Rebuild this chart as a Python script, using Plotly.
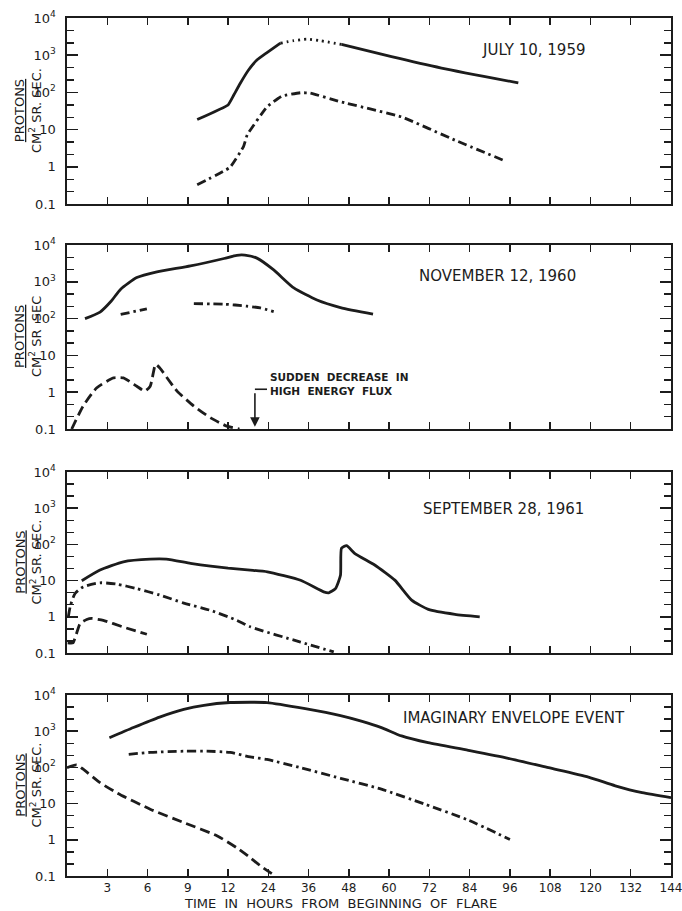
import numpy as np
import plotly.graph_objects as go

# ---------------- data (hours from flare start, protons / cm2 sr sec) -------------
# Panel 1: July 10, 1959
p1_solid_a_t = [9.7, 12, 13.7, 15.6, 18.1, 20.6, 23.6, 27.6]
p1_solid_a_v = [18.6, 46, 85, 174, 400, 740, 1170, 2100]
p1_dotted_t = [27.6, 31.5, 35.5, 39.5, 45.8]
p1_dotted_v = [2100, 2450, 2700, 2450, 1950]
p1_solid_b_t = [45.8, 60.7, 75.6, 98.5]
p1_solid_b_v = [1950, 910, 450, 180]
p1_dashdot_t = [9.7, 12.6, 16.6, 17.7, 23.6, 28.1, 33.6, 36.5, 45.5, 63.7, 79.6, 94.6]
p1_dashdot_v = [0.33, 0.97, 3.5, 7.2, 41, 80, 98, 96, 56, 22, 5.2, 1.43]

# Panel 2: November 12, 1960
p2_solid_t = [1.34, 2.46, 3.3, 4.0, 5.2, 6.7, 9.2, 11.7, 14.6, 17.0, 20.6, 25.6, 31.6, 38.5, 45.5, 55.2]
p2_solid_v = [100, 150, 300, 630, 1300, 1860, 2700, 4300, 5250, 5300, 4400, 2100, 680, 320, 200, 133]
p2_dashdot_t = [4.0, 5.95, None, 9.45, 11.7, 17.6, 21.6, 25.6]
p2_dashdot_v = [130, 185, None, 255, 247, 218, 195, 155]
p2_dashed_t = [0.35, 1.2, 2.2, 3.46, 4.2, 5.2, 5.8, 6.2, 6.6, 6.9, 8.2, 9.45, 10.7, 11.9, 15.4]
p2_dashed_v = [0.1, 0.42, 1.3, 2.45, 2.45, 1.45, 1.07, 1.45, 5.7, 4.6, 1.07, 0.42, 0.2, 0.12, 0.1]
p2_arrow_hours = 20.0

# Panel 3: September 28, 1961
p3_solid_t = [1.1, 2.46, 4.2, 6.2, 7.4, 9.2, 10.7, 12, 18.6, 23.7, 33.6, 40.5, 42, 44, 45.5,
              45.8, 47.3, 49.8, 55.7, 61.7, 66.7, 71.7, 79.6, 87]
p3_solid_v = [9.9, 19.5, 33, 39, 39, 30, 25, 22, 19.5, 17.5, 10.2, 4.9, 4.6, 6, 14,
              78, 92, 56, 27, 10.3, 2.9, 1.6, 1.17, 1.0]
p3_dashdot_t = [0.1, 0.25, 0.6, 1.2, 2.46, 3.7, 5.2, 6.9, 8.7, 10.7, 14.6, 18.6, 33.6, 43.5]
p3_dashdot_v = [1.0, 2.0, 4.4, 6.7, 8.7, 8, 6, 4, 2.4, 1.5, 0.8, 0.53, 0.2, 0.107]
p3_dashed_t = [0.05, 0.45, 0.97, 1.47, 1.84, 2.7, 4.2, 5.95]
p3_dashed_v = [0.19, 0.19, 0.65, 0.84, 0.9, 0.8, 0.52, 0.33]

# Panel 4: Imaginary envelope event
p4_solid_t = [3.16, 4.95, 6.9, 8.7, 10.2, 12.6, 18.6, 23.6, 35, 45.5, 51.7, 57.7, 63.7, 71.6,
              83.6, 95.5, 107.5, 119.4, 127.4, 135.4, 144]
p4_solid_v = [660, 1260, 2450, 4000, 5200, 6200, 6300, 6200, 4200, 2700, 1900, 1260, 740, 480,
              295, 178, 98, 54, 31, 20, 14.6]
p4_dashdot_t = [4.6, 6.2, 8.7, 10.4, 12.6, 18.6, 23.6, 33.6, 45.5, 57.7, 70.7, 83.6, 96]
p4_dashdot_v = [230, 260, 280, 280, 260, 195, 166, 98, 50, 25, 9.6, 3.5, 1.02]
p4_dashed_t = [0, 0.72, 1.2, 2.46, 3.7, 6.2, 8.7, 11.2, 14.6, 18.6, 22, 26.1]
p4_dashed_v = [98, 117, 89, 38, 20, 7, 3, 1.27, 0.6, 0.32, 0.18, 0.1]

x_tick_hours = [3, 6, 9, 12, 24, 36, 48, 60, 72, 84, 96, 108, 120, 132, 144]
x_tick_labels = [str(h) for h in x_tick_hours]
y_tick_vals = [0.1, 1, 10, 100, 1000, 10000]
y_tick_text = ["0.1", "1", "10", "10<sup>2</sup>", "10<sup>3</sup>", "10<sup>4</sup>"]
panel_titles = ["JULY 10, 1959", "NOVEMBER 12, 1960", "SEPTEMBER 28, 1961", "IMAGINARY ENVELOPE EVENT"]
y_units = ["CM<sup>2</sup> SR. SEC.", "CM<sup>2</sup> SR  SEC", "CM<sup>2</sup> SR. SEC.", "CM<sup>2</sup> SR. SEC."]


# The original time axis is piecewise: 3 h per division up to 12 h, then 12 h per division.
def to_axis(hours):
    out = []
    for h in hours:
        if h is None:
            out.append(None)
        elif h <= 12:
            out.append(h / 3.0)
        else:
            out.append(4 + (h - 12) / 12.0)
    return out


W, H = 682, 911
INK = "#1c1c1c"
FONT = "DejaVu Sans"

# panel pixel boxes (left, right, top, bottom)
x_left, x_right = 67, 671
panel_tb = [(18, 204), (245, 429), (472, 653), (695, 876)]

fig = go.Figure()

solid = dict(color=INK, width=2.8)
dashdot = dict(color=INK, width=2.8, dash="9px,4px,2.5px,4px")
dashed = dict(color=INK, width=2.8, dash="10px,5px")
dotted = dict(color=INK, width=2.8, dash="2px,4px")


def add(i, t, v, line, shape="spline", smoothing=0.6):
    ln = dict(**line, shape=shape)
    if shape == "spline":
        ln["smoothing"] = smoothing
    fig.add_trace(go.Scatter(
        x=to_axis(t), y=v, mode="lines", line=ln,
        xaxis="x" if i == 1 else f"x{i}", yaxis="y" if i == 1 else f"y{i}",
        showlegend=False, connectgaps=False, hoverinfo="skip"))


add(1, p1_solid_a_t, p1_solid_a_v, solid, "spline", 0.3)
add(1, p1_dotted_t, p1_dotted_v, dotted)
add(1, p1_solid_b_t, p1_solid_b_v, solid)
add(1, p1_dashdot_t, p1_dashdot_v, dashdot, "spline", 0.3)

add(2, p2_solid_t, p2_solid_v, solid)
add(2, p2_dashdot_t, p2_dashdot_v, dashdot)
add(2, p2_dashed_t, p2_dashed_v, dashed, "spline", 0.5)

add(3, p3_solid_t, p3_solid_v, solid, "spline", 0.5)
add(3, p3_dashdot_t, p3_dashdot_v, dashdot)
add(3, p3_dashed_t, p3_dashed_v, dashed, "spline", 0.4)

add(4, p4_solid_t, p4_solid_v, solid)
add(4, p4_dashdot_t, p4_dashdot_v, dashdot)
add(4, p4_dashed_t, p4_dashed_v, dashed)

minor_vals = []
for d in range(-1, 4):
    minor_vals += [10 ** (d + 1 / 3), 10 ** (d + 2 / 3)]

tick_axis = to_axis(x_tick_hours)
layout = dict(width=W, height=H, margin=dict(l=0, r=0, t=0, b=0, autoexpand=False),
              paper_bgcolor="white", plot_bgcolor="white",
              font=dict(family=FONT, color=INK, size=12))

for i, (top, bot) in enumerate(panel_tb, start=1):
    xs = "xaxis" if i == 1 else f"xaxis{i}"
    ys = "yaxis" if i == 1 else f"yaxis{i}"
    layout[xs] = dict(
        domain=[x_left / W, x_right / W], range=[0, 15],
        anchor="y" if i == 1 else f"y{i}", automargin=False,
        showline=True, linecolor=INK, linewidth=1.6, mirror="allticks",
        ticks="inside", ticklen=7, tickwidth=1.5, tickcolor=INK,
        tickmode="array", tickvals=tick_axis, ticktext=x_tick_labels,
        ticklabeloverflow="allow",
        showticklabels=(i == 4), showgrid=False, zeroline=False,
        tickfont=dict(family=FONT, size=12, color=INK), fixedrange=True)
    layout[ys] = dict(
        domain=[1 - bot / H, 1 - top / H], type="log", range=[-1, 4],
        anchor="x" if i == 1 else f"x{i}", automargin=False,
        showline=True, linecolor=INK, linewidth=1.6, mirror="allticks",
        ticks="inside", ticklen=11, tickwidth=1.5, tickcolor=INK,
        tickmode="array", tickvals=y_tick_vals, ticktext=y_tick_text,
        ticklabelstandoff=7,
        minor=dict(ticks="inside", ticklen=7, tickwidth=1.4, tickcolor=INK,
                   tickmode="array", tickvals=minor_vals),
        showgrid=False, zeroline=False,
        tickfont=dict(family=FONT, size=13, color=INK), fixedrange=True)

fig.update_layout(**layout)

title_pos = [(534, 50), (497, 276), (503, 509), (514, 718)]
for i, ((tx, ty), title) in enumerate(zip(title_pos, panel_titles)):
    fig.add_annotation(x=tx / W, y=1 - ty / H, xref="paper", yref="paper", text=title,
                       showarrow=False, font=dict(family=FONT, size=15, color=INK),
                       xanchor="center", yanchor="middle")
    top, bot = panel_tb[i]
    fig.add_annotation(x=28 / W, y=1 - ((top + bot) / 2) / H, xref="paper", yref="paper",
                       text="<u>PROTONS</u><br>" + y_units[i], textangle=-90,
                       showarrow=False, font=dict(family=FONT, size=13, color=INK),
                       xanchor="center", yanchor="middle")

# x-axis title
fig.add_annotation(x=340 / W, y=1 - 903 / H, xref="paper", yref="paper",
                   text="TIME  IN  HOURS  FROM  BEGINNING  OF  FLARE", showarrow=False,
                   font=dict(family=FONT, size=13, color=INK), xanchor="center", yanchor="middle")

# "sudden decrease" note with arrow in panel 2
arrow_x = to_axis([p2_arrow_hours])[0]
fig.add_annotation(x=arrow_x, y=np.log10(0.115), xref="x2", yref="y2",
                   ax=0, ay=-35, axref="pixel", ayref="pixel", text="",
                   showarrow=True, arrowhead=2, arrowsize=1.2, arrowwidth=1.6, arrowcolor=INK)
fig.add_shape(type="line", xref="x2", yref="y2 domain", x0=arrow_x, x1=arrow_x + 0.3,
              y0=0.216, y1=0.216, line=dict(color=INK, width=1.6))
fig.add_annotation(x=268 / W, y=1 - 384 / H, xref="paper", yref="paper",
                   text="<b>SUDDEN  DECREASE  IN</b><br><b>HIGH  ENERGY  FLUX</b>",
                   showarrow=False, align="left", xanchor="left", yanchor="middle",
                   font=dict(family=FONT, size=10.5, color=INK))

fig.write_html("out.html", config={"displayModeBar": False, "staticPlot": True},
               post_script="document.body.style.margin='0px';document.body.style.overflow='hidden';")
